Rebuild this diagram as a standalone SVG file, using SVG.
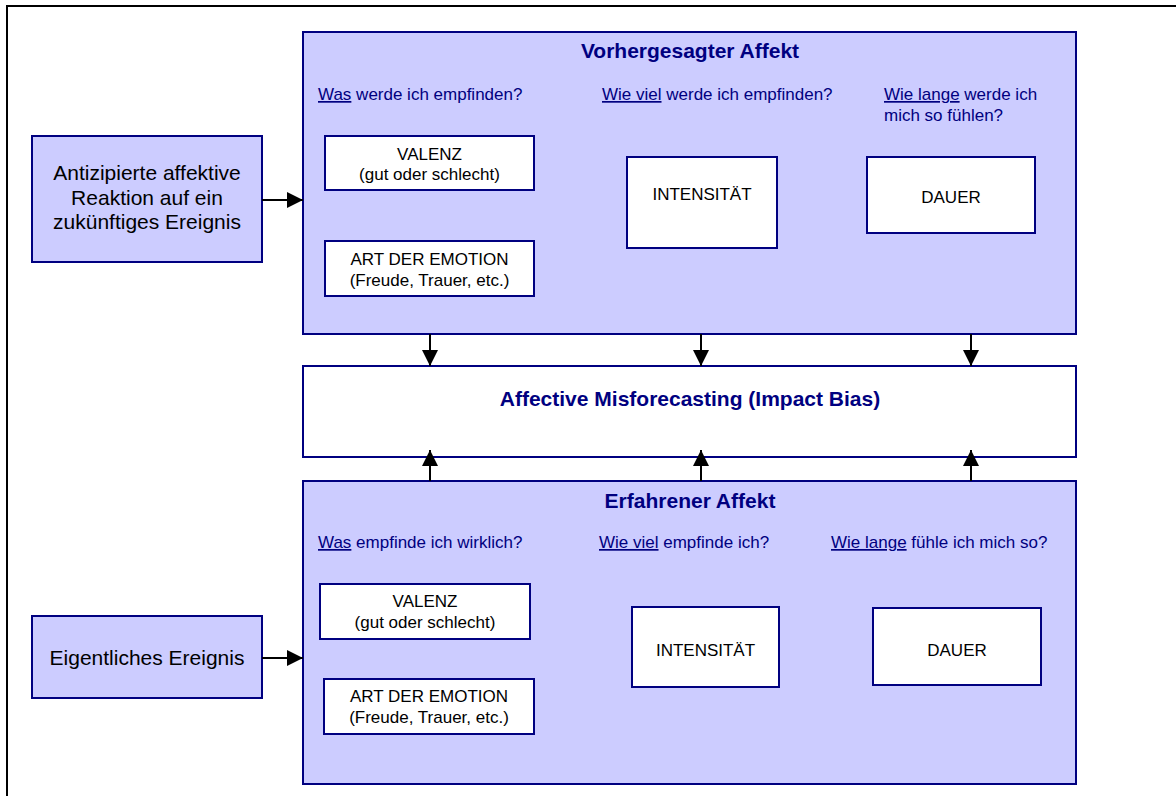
<svg xmlns="http://www.w3.org/2000/svg" width="1176" height="796" viewBox="0 0 1176 796">
<defs>
<style>
.panel{fill:#CCCCFF;stroke:#000080;stroke-width:2}
.box{fill:#FFFFFF;stroke:#000080;stroke-width:2}
.t{font-family:"Liberation Sans",Arial,sans-serif;fill:#000000}
.big{font-size:21px}
.sm{font-size:17px}
.q{font-family:"Liberation Sans",Arial,sans-serif;font-size:17px;fill:#000080}
.title{font-family:"Liberation Sans",Arial,sans-serif;font-size:21px;font-weight:bold;fill:#000080}
.u{text-decoration:underline}
.conn{stroke:#000000;stroke-width:2;fill:none}
</style>
<marker id="ah" markerWidth="16" markerHeight="16" viewBox="0 0 16 16" refX="16" refY="8" orient="auto" markerUnits="userSpaceOnUse">
<path d="M0,0 L16,8 L0,16 Z" fill="#000000"/>
</marker>
</defs>
<rect width="1176" height="796" fill="#FFFFFF"/>
<g id="frame">
<line x1="6" y1="6" x2="1176" y2="6" stroke="#000000" stroke-width="2"/>
<line x1="7" y1="6" x2="7" y2="796" stroke="#000000" stroke-width="2"/>
</g>

<g id="antizipiert">
<rect class="panel" x="32" y="136" width="230" height="126"/>
<text class="t big" text-anchor="middle"><tspan x="147" y="180">Antizipierte affektive</tspan><tspan x="147" y="205">Reaktion auf ein</tspan><tspan x="147" y="229">zukünftiges Ereignis</tspan></text>
</g>

<g id="vorhergesagt">
<rect class="panel" x="303" y="32" width="773" height="302"/>
<text class="title" x="690" y="58" text-anchor="middle">Vorhergesagter Affekt</text>
<text class="q" x="318" y="100"><tspan class="u">Was</tspan> werde ich empfinden?</text>
<text class="q" x="602" y="100"><tspan class="u">Wie viel</tspan> werde ich empfinden?</text>
<text class="q" x="884" y="100"><tspan class="u">Wie lange</tspan> werde ich</text>
<text class="q" x="884" y="121">mich so fühlen?</text>
</g>
<g id="valenz1">
<rect class="box" x="325" y="136" width="209" height="54"/>
<text class="t sm" text-anchor="middle"><tspan x="429.5" y="160">VALENZ</tspan><tspan x="429.5" y="180">(gut oder schlecht)</tspan></text>
</g>
<g id="art1">
<rect class="box" x="325" y="241" width="209" height="55"/>
<text class="t sm" text-anchor="middle"><tspan x="429.5" y="265">ART DER EMOTION</tspan><tspan x="429.5" y="286">(Freude, Trauer, etc.)</tspan></text>
</g>
<g id="intensitaet1">
<rect class="box" x="627" y="157" width="150" height="91"/>
<text class="t sm" x="702" y="200" text-anchor="middle">INTENSITÄT</text>
</g>
<g id="dauer1">
<rect class="box" x="867" y="157" width="168" height="76"/>
<text class="t sm" x="951" y="203" text-anchor="middle">DAUER</text>
</g>

<g id="misforecasting">
<rect class="box" x="303" y="366" width="773" height="91"/>
<text class="title" x="690" y="406" text-anchor="middle">Affective Misforecasting (Impact Bias)</text>
</g>

<g id="erfahren">
<rect class="panel" x="303" y="481" width="773" height="303"/>
<text class="title" x="690" y="508" text-anchor="middle">Erfahrener Affekt</text>
<text class="q" x="318" y="548"><tspan class="u">Was</tspan> empfinde ich wirklich?</text>
<text class="q" x="599" y="548"><tspan class="u">Wie viel</tspan> empfinde ich?</text>
<text class="q" x="831" y="548"><tspan class="u">Wie lange</tspan> fühle ich mich so?</text>
</g>
<g id="valenz2">
<rect class="box" x="320" y="584" width="210" height="55"/>
<text class="t sm" text-anchor="middle"><tspan x="425" y="607">VALENZ</tspan><tspan x="425" y="628">(gut oder schlecht)</tspan></text>
</g>
<g id="art2">
<rect class="box" x="324" y="679" width="210" height="55"/>
<text class="t sm" text-anchor="middle"><tspan x="429" y="702">ART DER EMOTION</tspan><tspan x="429" y="723">(Freude, Trauer, etc.)</tspan></text>
</g>
<g id="intensitaet2">
<rect class="box" x="632" y="607" width="147" height="80"/>
<text class="t sm" x="705.5" y="656" text-anchor="middle">INTENSITÄT</text>
</g>
<g id="dauer2">
<rect class="box" x="873" y="608" width="168" height="77"/>
<text class="t sm" x="957" y="656" text-anchor="middle">DAUER</text>
</g>

<g id="ereignis">
<rect class="panel" x="32" y="616" width="230" height="82"/>
<text class="t big" x="147" y="665" text-anchor="middle">Eigentliches Ereignis</text>
</g>

<g id="connectors">
<line class="conn" x1="262" y1="200" x2="303" y2="200" marker-end="url(#ah)"/>
<line class="conn" x1="262" y1="658" x2="303" y2="658" marker-end="url(#ah)"/>
<line class="conn" x1="430" y1="334" x2="430" y2="366" marker-end="url(#ah)"/>
<line class="conn" x1="701" y1="334" x2="701" y2="366" marker-end="url(#ah)"/>
<line class="conn" x1="971" y1="334" x2="971" y2="366" marker-end="url(#ah)"/>
<line class="conn" x1="430" y1="481" x2="430" y2="450" marker-end="url(#ah)"/>
<line class="conn" x1="701" y1="481" x2="701" y2="450" marker-end="url(#ah)"/>
<line class="conn" x1="971" y1="481" x2="971" y2="450" marker-end="url(#ah)"/>
</g>
</svg>
